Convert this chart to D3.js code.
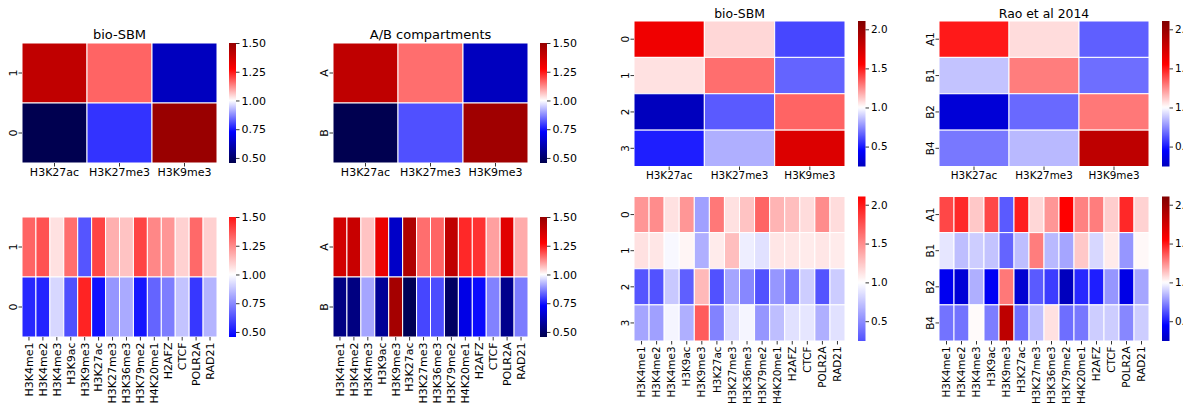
<!DOCTYPE html>
<html>
<head>
<meta charset="utf-8">
<script src="https://cdn.jsdelivr.net/npm/d3@7"></script>
<style>
body { margin: 0; background: #fff; }
text { font-family: "DejaVu Sans", sans-serif; fill: #000; }
</style>
</head>
<body>
<script>
// marks on the x axis
var marks3 = ["H3K27ac", "H3K27me3", "H3K9me3"];
var marks14 = ["H3K4me1", "H3K4me2", "H3K4me3", "H3K9ac", "H3K9me3", "H3K27ac", "H3K27me3",
	"H3K36me3", "H3K79me2", "H4K20me1", "H2AFZ", "CTCF", "POLR2A", "RAD21"];

// groups on the y axis
var sbm2Rows = ["1", "0"];
var abRows = ["A", "B"];
var sbm4Rows = ["0", "1", "2", "3"];
var raoRows = ["A1", "B1", "B2", "B4"];

// enrichment values, one row per group
var sbm2Top = [[1.408, 1.165, 0.63], [0.46, 0.782, 1.49]];
var abTop = [[1.41, 1.155, 0.63], [0.46, 0.813, 1.475]];
var sbm4Top = [[1.619, 1.087, 0.600], [1.066, 1.314, 0.664], [0.246, 0.642, 1.337], [0.512, 0.827, 1.705]];
var raoTop = [[1.498, 1.076, 0.653], [0.870, 1.281, 0.686], [0.323, 0.675, 1.292], [0.708, 0.848, 1.836]];

var sbm2Bottom = [
	[1.33, 1.37, 1.065, 1.31, 0.637, 1.40, 1.171, 1.128, 1.40, 1.256, 1.224, 1.098, 1.32, 1.10],
	[0.541, 0.53, 0.914, 0.627, 1.47, 0.488, 0.776, 0.818, 0.50, 0.669, 0.723, 0.872, 0.573, 0.84]];
var abBottom = [
	[1.369, 1.39, 1.064, 1.315, 0.644, 1.443, 1.155, 1.165, 1.41, 1.229, 1.219, 1.101, 1.336, 1.09],
	[0.538, 0.535, 0.904, 0.568, 1.465, 0.47, 0.803, 0.81, 0.49, 0.69, 0.74, 0.867, 0.553, 0.86]];
var sbm4Bottom = [
	[1.456, 1.498, 1.131, 1.456, 0.588, 1.586, 1.131, 1.26, 1.672, 1.325, 1.281, 1.152, 1.498, 1.152],
	[1.131, 1.108, 0.969, 1.044, 0.653, 1.088, 1.281, 0.927, 0.87, 1.108, 1.108, 1.088, 1.108, 1.088],
	[0.263, 0.25, 0.761, 0.306, 1.303, 0.245, 0.61, 0.48, 0.25, 0.544, 0.414, 0.783, 0.26, 0.78],
	[0.61, 0.59, 0.956, 0.653, 1.71, 0.458, 0.848, 0.956, 0.544, 0.718, 0.87, 0.89, 0.653, 0.87]];
var raoBottom = [
	[1.40, 1.467, 1.119, 1.40, 0.642, 1.487, 1.087, 1.228, 1.553, 1.272, 1.281, 1.108, 1.467, 1.098],
	[0.945, 0.859, 0.892, 0.87, 0.664, 0.859, 1.281, 0.848, 0.805, 1.119, 0.914, 1.044, 0.772, 1.015],
	[0.40, 0.323, 0.827, 0.416, 1.292, 0.308, 0.642, 0.578, 0.246, 0.534, 0.512, 0.772, 0.37, 0.805],
	[0.697, 0.697, 1.01, 0.719, 1.836, 0.686, 0.859, 1.066, 0.686, 0.708, 0.892, 0.892, 0.74, 0.892]];

// colour limits and colorbar ticks
var limLeft = [0.456, 1.5];
var limRight = [0.245, 2.106];
var cbTicksLeft = [0.5, 0.75, 1.0, 1.25, 1.5];
var cbTicksRight = [0.5, 1.0, 1.5, 2.0];

// matplotlib colormaps
var seismic = d3.scaleLinear().domain([0, .25, .5, .75, 1])
	.range(["rgb(0,0,77)", "rgb(0,0,255)", "#fff", "rgb(255,0,0)", "rgb(128,0,0)"]).clamp(true);
var bwr = d3.scaleLinear().domain([0, .5, 1]).range(["#00f", "#fff", "#f00"]).clamp(true);

var svg = d3.select("body").append("svg")
	.attr("width", 1183).attr("height", 404);
var defs = svg.append("defs");

var panels = [
	{ rows: sbm2Rows, cols: marks3, vals: sbm2Top, cmap: seismic, lim: limLeft, ticks: cbTicksLeft, fmt: ".2f",
		x: 22, y: 43, w: 195, h: 120, cbx: 229, cbw: 7, fs: 11, ts: 13, title: "bio-SBM" },
	{ rows: abRows, cols: marks3, vals: abTop, cmap: seismic, lim: limLeft, ticks: cbTicksLeft, fmt: ".2f",
		x: 333, y: 43, w: 195, h: 120, cbx: 540, cbw: 7, fs: 11, ts: 13, title: "A/B compartments" },
	{ rows: sbm4Rows, cols: marks3, vals: sbm4Top, cmap: seismic, lim: limRight, ticks: cbTicksRight, fmt: ".1f",
		x: 634, y: 21, w: 211, h: 145.5, cbx: 858, cbw: 7.5, fs: 10.4, ts: 12.4, title: "bio-SBM" },
	{ rows: raoRows, cols: marks3, vals: raoTop, cmap: seismic, lim: limRight, ticks: cbTicksRight, fmt: ".1f",
		x: 939, y: 21, w: 210, h: 145.5, cbx: 1162, cbw: 7.5, fs: 10.4, ts: 12.4, title: "Rao et al 2014" },
	{ rows: sbm2Rows, cols: marks14, vals: sbm2Bottom, cmap: bwr, lim: limLeft, ticks: cbTicksLeft, fmt: ".2f",
		x: 22, y: 217, w: 195, h: 120, cbx: 229, cbw: 7, fs: 11, rot: true },
	{ rows: abRows, cols: marks14, vals: abBottom, cmap: seismic, lim: limLeft, ticks: cbTicksLeft, fmt: ".2f",
		x: 333, y: 217, w: 195, h: 120, cbx: 540, cbw: 7, fs: 11, rot: true },
	{ rows: sbm4Rows, cols: marks14, vals: sbm4Bottom, cmap: bwr, lim: limRight, ticks: cbTicksRight, fmt: ".1f",
		x: 634, y: 196.5, w: 211, h: 144.5, cbx: 858, cbw: 7.5, fs: 10.4, rot: true },
	{ rows: raoRows, cols: marks14, vals: raoBottom, cmap: seismic, lim: limRight, ticks: cbTicksRight, fmt: ".1f",
		x: 939, y: 196.5, w: 210, h: 144.5, cbx: 1162, cbw: 7.5, fs: 10.4, rot: true }
];

panels.forEach(function (p, k) {
	var g = svg.append("g");
	var x = d3.scaleBand().domain(p.cols).range([p.x, p.x + p.w]);
	var y = d3.scaleBand().domain(p.rows).range([p.y, p.y + p.h]);

	// seaborn style centring: symmetric norm around 1
	var r = Math.max(p.lim[1] - 1, 1 - p.lim[0]);
	var norm = d3.scaleLinear().domain([1 - r, 1 + r]).range([0, 1]);
	var colour = function (v) { return p.cmap(norm(v)); };

	var cells = p.rows.flatMap(function (rn, i) {
		return p.cols.map(function (cn, j) { return { r: rn, c: cn, v: p.vals[i][j] }; });
	});
	g.selectAll("rect.cell").data(cells).join("rect")
		.attr("class", "cell")
		.attr("x", function (d) { return x(d.c); })
		.attr("y", function (d) { return y(d.r); })
		.attr("width", x.bandwidth()).attr("height", y.bandwidth())
		.attr("fill", function (d) { return colour(d.v); })
		.attr("stroke", "#fff").attr("stroke-width", 1);

	// x axis
	var xa = g.append("g").attr("transform", "translate(0," + (p.y + p.h) + ")")
		.call(d3.axisBottom(x).tickSize(3.5).tickPadding(2));
	xa.select(".domain").remove();
	xa.selectAll(".tick line").attr("stroke-width", 0.8);
	xa.selectAll(".tick text").style("font-size", p.fs + "px");
	if (p.rot) {
		xa.selectAll(".tick text")
			.attr("transform", "rotate(-90)")
			.attr("x", -5.5).attr("y", 0).attr("dy", "0.35em")
			.style("text-anchor", "end");
	}

	// y axis, labels turned upright
	var ya = g.append("g").attr("transform", "translate(" + p.x + ",0)")
		.call(d3.axisLeft(y).tickSize(3.5).tickPadding(2));
	ya.select(".domain").remove();
	ya.selectAll(".tick line").attr("stroke-width", 0.8);
	ya.selectAll(".tick text")
		.style("font-size", p.fs + "px")
		.attr("transform", "rotate(-90)")
		.attr("x", 0).attr("y", -5.5).attr("dy", "0em")
		.style("text-anchor", "middle");

	// colorbar
	var grad = defs.append("linearGradient").attr("id", "cb" + k)
		.attr("x1", 0).attr("y1", 1).attr("x2", 0).attr("y2", 0);
	d3.range(0, 101).forEach(function (i) {
		var v = p.lim[0] + (p.lim[1] - p.lim[0]) * i / 100;
		grad.append("stop").attr("offset", i / 100).attr("stop-color", colour(v));
	});
	g.append("rect")
		.attr("x", p.cbx).attr("y", p.y).attr("width", p.cbw).attr("height", p.h)
		.attr("fill", "url(#cb" + k + ")");
	var cb = d3.scaleLinear().domain(p.lim).range([p.y + p.h, p.y]);
	var ca = g.append("g").attr("transform", "translate(" + (p.cbx + p.cbw) + ",0)")
		.call(d3.axisRight(cb).tickValues(p.ticks).tickFormat(d3.format(p.fmt)).tickSize(3.5).tickPadding(2));
	ca.select(".domain").remove();
	ca.selectAll(".tick line").attr("stroke-width", 0.8);
	ca.selectAll(".tick text").style("font-size", p.fs + "px");

	if (p.title) {
		g.append("text")
			.attr("x", p.x + p.w / 2).attr("y", p.y - (p.fs > 11 ? 4 : (p.y > 30 ? 4 : 3.5)))
			.attr("text-anchor", "middle")
			.style("font-size", p.ts + "px")
			.text(p.title);
	}
});
</script>
</body>
</html>
